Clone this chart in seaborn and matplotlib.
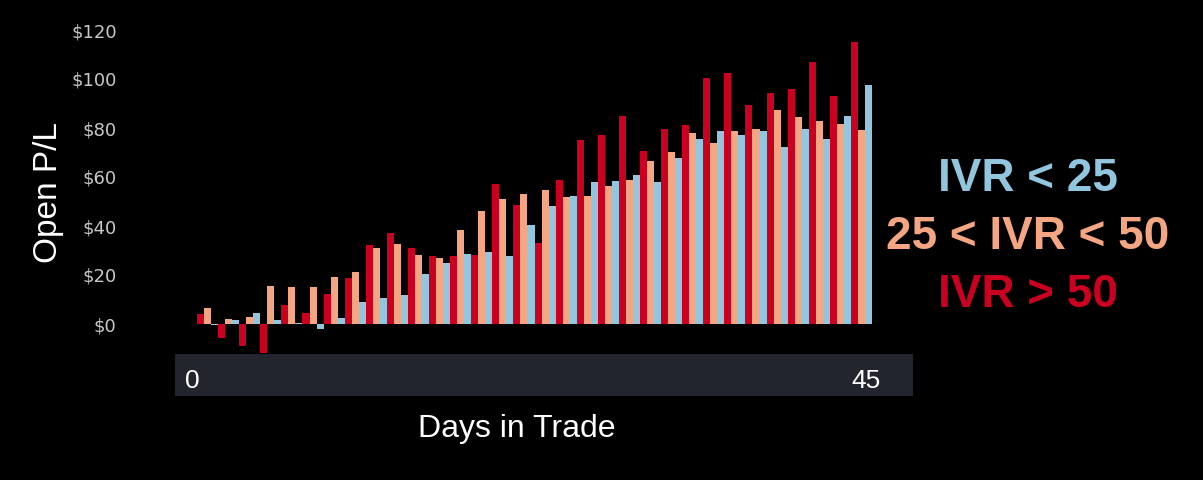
"""
Open P/L by days in trade, grouped by IVR bucket.
"""
import matplotlib
matplotlib.use("Agg")
import matplotlib.pyplot as plt
import seaborn as sns
import pandas as pd

# values, one entry per bar group (32 groups)
days = list(range(32))
ivr_high = [4, -5.9, -9, -12.2, 7.6, 4.4, 12.2, 18.8, 32.1, 37.1, 31.2, 27.8,
            27.8, 28.2, 57.1, 48.6, 33.2, 58.8, 75.1, 77.1, 85.1, 70.6, 79.6, 81.1,
            100.3, 102.3, 89.3, 94.4, 95.8, 106.8, 93.2, 115.1]
ivr_mid = [6.4, 1.9, 2.7, 15.5, 15, 15, 19, 21.2, 31, 32.6, 28.3, 27.1,
           38.4, 46, 50.9, 53.2, 54.7, 52, 52.2, 56.5, 58.8, 66.5, 70.3, 77.8,
           73.7, 78.6, 79.5, 87.3, 84.6, 82.7, 81.5, 79.2]
ivr_low = [-0.6, 1.6, 4.4, 1.6, 0.3, -2.2, 2.6, 8.8, 10.6, 11.7, 20.3, 24.9,
           28.6, 29.3, 27.8, 40.4, 48, 52.2, 57.8, 58.5, 60.9, 57.8, 67.9, 75.6,
           78.6, 77.1, 78.8, 72.2, 79.6, 75.6, 84.9, 97.6]

labels = ["IVR > 50", "25 < IVR < 50", "IVR < 25"]
colors = ["#ca0020", "#f4a582", "#92c5de"]
y_ticks = [0, 20, 40, 60, 80, 100, 120]
x_ends = ["0", "45"]

W, H = 1203, 480


def fx(px):
    return px / W


def fy(py):
    return 1 - py / H


df = pd.DataFrame({
    "day": days * 3,
    "pl": ivr_high + ivr_mid + ivr_low,
    "ivr": [labels[0]] * 32 + [labels[1]] * 32 + [labels[2]] * 32,
})

sns.set_theme(style="dark")
plt.rcParams["font.family"] = ["Liberation Sans", "DejaVu Sans"]

fig = plt.figure(figsize=(W / 100, H / 100), dpi=100, facecolor="black")

# main bar axes
ax = fig.add_axes([fx(175), fy(353), fx(913 - 175), (353 - 20) / H])
ax.set_facecolor("black")
sns.barplot(data=df, x="day", y="pl", hue="ivr", hue_order=labels,
            palette=colors, width=1.0, saturation=1, errorbar=None,
            linewidth=0, legend=False, ax=ax)

px_per_unit = (872 - 197) / 32
ax.set_xlim(-0.5 - (197 - 175) / px_per_unit, 31.5 + (913 - 872) / px_per_unit)
px_per_dollar = (324 - 30) / 120
ax.set_ylim(-(353 - 324) / px_per_dollar, (324 - 20) / px_per_dollar)

ax.set_xticks([])
ax.set_yticks(y_ticks)
ax.set_yticklabels([f"${v}" for v in y_ticks], family="DejaVu Sans",
                   fontsize=13, color="#c8c8c8")
ax.tick_params(axis="y", length=0, pad=42)
ax.set_xlabel("")
ax.set_ylabel("")
ax.grid(False)
for s in ax.spines.values():
    s.set_visible(False)

# dark band under the bars holding the first and last day
band = fig.add_axes([fx(175), fy(396), fx(913 - 175), (396 - 354) / H])
band.set_facecolor("#22252e")
band.set_xticks([])
band.set_yticks([])
for s in band.spines.values():
    s.set_visible(False)
fig.text(fx(192), fy(381), x_ends[0], color="white", fontsize=19,
         ha="center", va="center")
fig.text(fx(866), fy(381), x_ends[1], color="white", fontsize=19,
         ha="center", va="center")

fig.text(fx(517), fy(429), "Days in Trade", color="white", fontsize=23,
         ha="center", va="center")
fig.text(fx(48), fy(193), "Open P/L", color="white", fontsize=24,
         rotation=90, ha="center", va="center")

# coloured legend text on the right
legend_y = [295, 237, 179]
for lab, col, yy in zip(labels, colors, legend_y):
    fig.text(fx(1028), fy(yy), lab, color=col, fontsize=33, fontweight="bold",
             ha="center", va="center")

fig.savefig("out.png", dpi=100, facecolor="black")
